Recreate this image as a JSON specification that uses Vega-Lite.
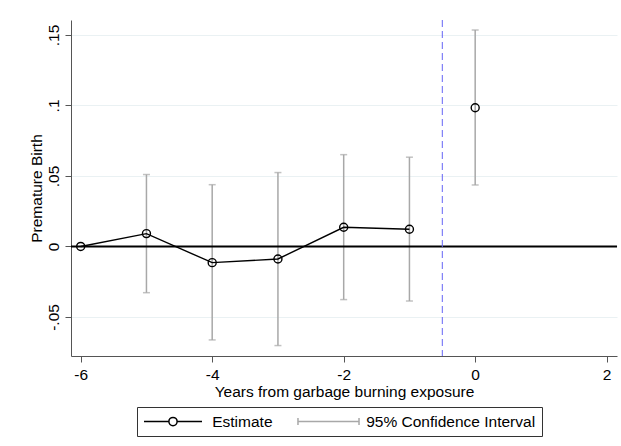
{
  "$schema": "https://vega.github.io/schema/vega-lite/v6.json",
  "width": 546,
  "height": 336,
  "autosize": "none",
  "padding": {"left": 71, "top": 20, "right": 4, "bottom": 90},
  "background": "white",
  "config": {
    "view": {"stroke": null},
    "font": "Liberation Sans",
    "axis": {
      "domainColor": "#555555",
      "tickColor": "#555555",
      "tickSize": 6,
      "labelFont": "Liberation Sans",
      "labelFontSize": 15.5,
      "labelColor": "#000000",
      "titleFont": "Liberation Sans",
      "titleFontSize": 15.5,
      "titleFontWeight": "normal",
      "titleColor": "#000000"
    },
    "axisX": {
      "grid": false,
      "labelFlush": false,
      "labelPadding": 5,
      "titlePadding": 2
    },
    "axisY": {
      "grid": true,
      "gridColor": "#eaf1f3",
      "gridWidth": 1,
      "labelAngle": -90,
      "labelAlign": "center",
      "labelBaseline": "alphabetic",
      "labelPadding": 6.5,
      "titlePadding": 2
    }
  },
  "data": {
    "values": [
      {"t": -6, "est": 0, "lo": null, "hi": null},
      {"t": -5, "est": 0.0091, "lo": -0.0328, "hi": 0.051},
      {"t": -4, "est": -0.0115, "lo": -0.0663, "hi": 0.0438},
      {"t": -3, "est": -0.0089, "lo": -0.0703, "hi": 0.0524},
      {"t": -2, "est": 0.0136, "lo": -0.0377, "hi": 0.0651},
      {"t": -1, "est": 0.0122, "lo": -0.0387, "hi": 0.0633},
      {"t": 0, "est": 0.0984, "lo": 0.0436, "hi": 0.1535}
    ]
  },
  "layer": [
    {
      "transform": [{"filter": "isValid(datum.lo)"}],
      "mark": {"type": "rule", "strokeWidth": 1.5, "color": "#a8a8a8"},
      "encoding": {
        "x": {"field": "t", "type": "quantitative",
          "scale": {"domain": [-6.1475, 2.157], "nice": false, "zero": false},
          "axis": {"title": "Years from garbage burning exposure", "values": [-6, -4, -2, 0, 2], "labelExpr": "toString(datum.value)"}},
        "y": {"field": "lo", "type": "quantitative",
          "scale": {"domain": [-0.0777, 0.1606], "nice": false, "zero": false},
          "axis": {"title": "Premature Birth", "values": [-0.05, 0, 0.05, 0.1, 0.15], "labelExpr": "replace(toString(datum.value), '0.', '.')"}},
        "y2": {"field": "hi"}
      }
    },
    {
      "data": {"values": [{}]},
      "mark": {"type": "rule", "color": "#000000", "strokeWidth": 2},
      "encoding": {
        "y": {"datum": 0, "type": "quantitative",
          "scale": {"domain": [-0.0777, 0.1606], "nice": false, "zero": false},
          "axis": {"title": "Premature Birth", "values": [-0.05, 0, 0.05, 0.1, 0.15], "labelExpr": "replace(toString(datum.value), '0.', '.')"}}
      }
    },
    {
      "data": {"values": [{}]},
      "mark": {"type": "rule", "color": "#6464f5", "strokeWidth": 1, "strokeDash": [7, 4]},
      "encoding": {
        "x": {"datum": -0.5, "type": "quantitative",
          "scale": {"domain": [-6.1475, 2.157], "nice": false, "zero": false},
          "axis": {"title": "Years from garbage burning exposure", "values": [-6, -4, -2, 0, 2], "labelExpr": "toString(datum.value)"}}
      }
    },
    {
      "transform": [{"filter": "isValid(datum.lo)"}],
      "mark": {"type": "tick", "orient": "horizontal", "color": "#a8a8a8", "thickness": 1.5, "size": 7},
      "encoding": {
        "x": {"field": "t", "type": "quantitative",
          "scale": {"domain": [-6.1475, 2.157], "nice": false, "zero": false},
          "axis": {"title": "Years from garbage burning exposure", "values": [-6, -4, -2, 0, 2], "labelExpr": "toString(datum.value)"}},
        "y": {"field": "lo", "type": "quantitative",
          "scale": {"domain": [-0.0777, 0.1606], "nice": false, "zero": false},
          "axis": {"title": "Premature Birth", "values": [-0.05, 0, 0.05, 0.1, 0.15], "labelExpr": "replace(toString(datum.value), '0.', '.')"}}
      }
    },
    {
      "transform": [{"filter": "isValid(datum.hi)"}],
      "mark": {"type": "tick", "orient": "horizontal", "color": "#a8a8a8", "thickness": 1.5, "size": 7},
      "encoding": {
        "x": {"field": "t", "type": "quantitative",
          "scale": {"domain": [-6.1475, 2.157], "nice": false, "zero": false},
          "axis": {"title": "Years from garbage burning exposure", "values": [-6, -4, -2, 0, 2], "labelExpr": "toString(datum.value)"}},
        "y": {"field": "hi", "type": "quantitative",
          "scale": {"domain": [-0.0777, 0.1606], "nice": false, "zero": false},
          "axis": {"title": "Premature Birth", "values": [-0.05, 0, 0.05, 0.1, 0.15], "labelExpr": "replace(toString(datum.value), '0.', '.')"}}
      }
    },
    {
      "transform": [{"filter": "datum.t < 0"}],
      "mark": {"type": "line", "strokeWidth": 1.4, "color": "#000000"},
      "encoding": {
        "x": {"field": "t", "type": "quantitative",
          "scale": {"domain": [-6.1475, 2.157], "nice": false, "zero": false},
          "axis": {"title": "Years from garbage burning exposure", "values": [-6, -4, -2, 0, 2], "labelExpr": "toString(datum.value)"}},
        "y": {"field": "est", "type": "quantitative",
          "scale": {"domain": [-0.0777, 0.1606], "nice": false, "zero": false},
          "axis": {"title": "Premature Birth", "values": [-0.05, 0, 0.05, 0.1, 0.15], "labelExpr": "replace(toString(datum.value), '0.', '.')"}}
      }
    },
    {
      "mark": {"type": "point", "shape": "circle", "filled": false, "stroke": "#000000", "strokeWidth": 1.4, "size": 64, "opacity": 1},
      "encoding": {
        "x": {"field": "t", "type": "quantitative",
          "scale": {"domain": [-6.1475, 2.157], "nice": false, "zero": false},
          "axis": {"title": "Years from garbage burning exposure", "values": [-6, -4, -2, 0, 2], "labelExpr": "toString(datum.value)"}},
        "y": {"field": "est", "type": "quantitative",
          "scale": {"domain": [-0.0777, 0.1606], "nice": false, "zero": false},
          "axis": {"title": "Premature Birth", "values": [-0.05, 0, 0.05, 0.1, 0.15], "labelExpr": "replace(toString(datum.value), '0.', '.')"}}
      }
    },
    {
      "data": {"values": [{"s": "Estimate"}, {"s": "95% Confidence Interval"}]},
      "mark": {"type": "point", "filled": false, "strokeWidth": 1.5, "opacity": 1, "clip": true},
      "encoding": {
        "x": {"datum": 5, "type": "quantitative",
          "scale": {"domain": [-6.1475, 2.157], "nice": false, "zero": false},
          "axis": {"title": "Years from garbage burning exposure", "values": [-6, -4, -2, 0, 2], "labelExpr": "toString(datum.value)"}},
        "y": {"datum": 0, "type": "quantitative",
          "scale": {"domain": [-0.0777, 0.1606], "nice": false, "zero": false},
          "axis": {"title": "Premature Birth", "values": [-0.05, 0, 0.05, 0.1, 0.15], "labelExpr": "replace(toString(datum.value), '0.', '.')"}},
        "shape": {
          "field": "s", "type": "nominal",
          "scale": {"domain": ["Estimate", "95% Confidence Interval"],
            "range": ["M-3.87 0H-0.55M0.55 0A0.55 0.55 0 1 1 -0.55 0A0.55 0.55 0 1 1 0.55 0M0.55 0H3.87", "M-3.87 -0.47V0.47M-3.87 0H4.27M4.27 -0.47V0.47"]},
          "legend": {
            "orient": "none",
            "legendX": 66,
            "legendY": 387,
            "direction": "horizontal",
            "columns": 2,
            "title": null,
            "padding": 6,
            "strokeColor": "#333333",
            "fillColor": "white",
            "symbolSize": 225,
            "symbolStrokeWidth": 1.5,
            "symbolOffset": 21.5,
            "labelOffset": 30.7,
            "columnPadding": 21,
            "labelFont": "Liberation Sans",
            "labelFontSize": 15.5,
            "labelColor": "#000000",
            "labelLimit": 400
          }
        },
        "stroke": {
          "field": "s", "type": "nominal",
          "scale": {"domain": ["Estimate", "95% Confidence Interval"], "range": ["#000000", "#a8a8a8"]},
          "legend": {
            "orient": "none",
            "legendX": 66,
            "legendY": 387,
            "direction": "horizontal",
            "columns": 2,
            "title": null,
            "padding": 6,
            "strokeColor": "#333333",
            "fillColor": "white",
            "symbolSize": 225,
            "symbolStrokeWidth": 1.5,
            "symbolOffset": 21.5,
            "labelOffset": 30.7,
            "columnPadding": 21,
            "labelFont": "Liberation Sans",
            "labelFontSize": 15.5,
            "labelColor": "#000000",
            "labelLimit": 400
          }
        }
      }
    }
  ]
}
